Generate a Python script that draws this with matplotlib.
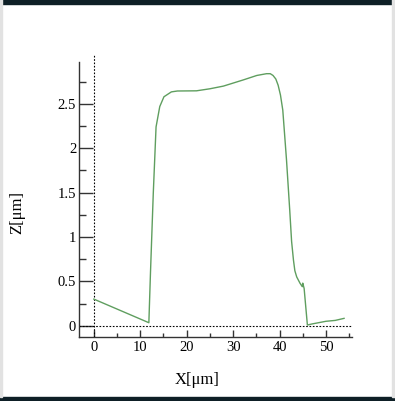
import matplotlib
matplotlib.use("Agg")
import matplotlib.pyplot as plt
from matplotlib.patches import Rectangle
from matplotlib.ticker import MultipleLocator

# profile (x in um, z in um)
x_um = [0.0, 11.85, 12.2, 12.8, 13.4, 14.2, 15.1, 16.7, 18.0, 22.1, 25.0, 27.9,
        32.2, 35.1, 37.2, 38.0, 38.6, 39.2, 39.7, 40.2, 40.7, 41.5, 42.2, 42.6,
        43.0, 43.3, 43.7, 44.4, 44.9, 45.0, 45.3, 46.0, 47.0, 50.0, 52.0, 53.9]
z_um = [0.30, 0.034, 0.60, 1.49, 2.24, 2.47, 2.58, 2.635, 2.645, 2.647, 2.67, 2.70,
        2.77, 2.82, 2.84, 2.84, 2.82, 2.78, 2.71, 2.60, 2.43, 1.87, 1.30, 0.95,
        0.74, 0.62, 0.55, 0.48, 0.44, 0.48, 0.42, 0.008, 0.02, 0.05, 0.06, 0.083]

x_ticks = [0, 10, 20, 30, 40, 50]
y_ticks = [0, 0.5, 1, 1.5, 2, 2.5]
y_tick_labels = ["0", "0.5", "1", "1.5", "2", "2.5"]

plt.rcParams['font.family'] = ['Liberation Serif', 'DejaVu Serif']

fig = plt.figure(figsize=(3.95, 4.01), dpi=100, facecolor="white")

# dark frame bands and thin grey side lines of the screenshot
fig.patches.append(Rectangle((0, 1 - 4 / 401), 1, 4 / 401, transform=fig.transFigure,
                             color="#0e1f26", zorder=0))
fig.patches.append(Rectangle((0, 0), 1, 4 / 401, transform=fig.transFigure,
                             color="#0e1f26", zorder=0))
fig.patches.append(Rectangle((0, 4 / 401), 2 / 395, 1, transform=fig.transFigure,
                             color="#e2e2e2", zorder=0))
fig.patches.append(Rectangle((392 / 395, 4 / 401), 3 / 395, 1, transform=fig.transFigure,
                             color="#e2e2e2", zorder=0))

ax = fig.add_axes([0.2, 0.1596, 0.691, 0.6854])
ax.set_facecolor("none")

ax.plot(x_um, z_um, color="#5f9e5f", linewidth=1.0, zorder=3)

ax.plot([0, 0], [-0.127, 3.05], color="black", linestyle=(0, (1.5, 1.5)),
        linewidth=0.8, clip_on=False, zorder=2)
ax.axhline(0, color="black", linestyle=(0, (1.5, 1.5)), linewidth=0.8, zorder=2)

ax.set_xlim(-3.2, 55.6)
ax.set_ylim(-0.127, 2.97)

for s in ["top", "right"]:
    ax.spines[s].set_visible(False)
for s in ["left", "bottom"]:
    ax.spines[s].set_color("#333333")
    ax.spines[s].set_linewidth(1.0)

ax.set_xticks(x_ticks)
ax.set_yticks(y_ticks)
ax.set_yticklabels(y_tick_labels)
ax.xaxis.set_minor_locator(MultipleLocator(5))
ax.yaxis.set_minor_locator(MultipleLocator(0.25))

ax.tick_params(axis="y", which="major", direction="in", length=10, width=1,
               color="#333333", pad=2, labelsize=10.5)
ax.tick_params(axis="y", which="minor", direction="in", length=5, width=1, color="#333333")
ax.tick_params(axis="x", which="major", direction="in", length=5, width=1,
               color="#333333", pad=3, labelsize=10.5)
ax.tick_params(axis="x", which="minor", direction="in", length=3, width=1, color="#333333")

fig.text(197 / 395, 1 - 380 / 401, "X[μm]", fontsize=12, ha="center", va="center")
fig.text(17 / 395, 1 - 212 / 401, "Z[μm]", fontsize=12, ha="center", va="center",
         rotation=90)

fig.savefig("out.png", dpi=100, facecolor="white")
